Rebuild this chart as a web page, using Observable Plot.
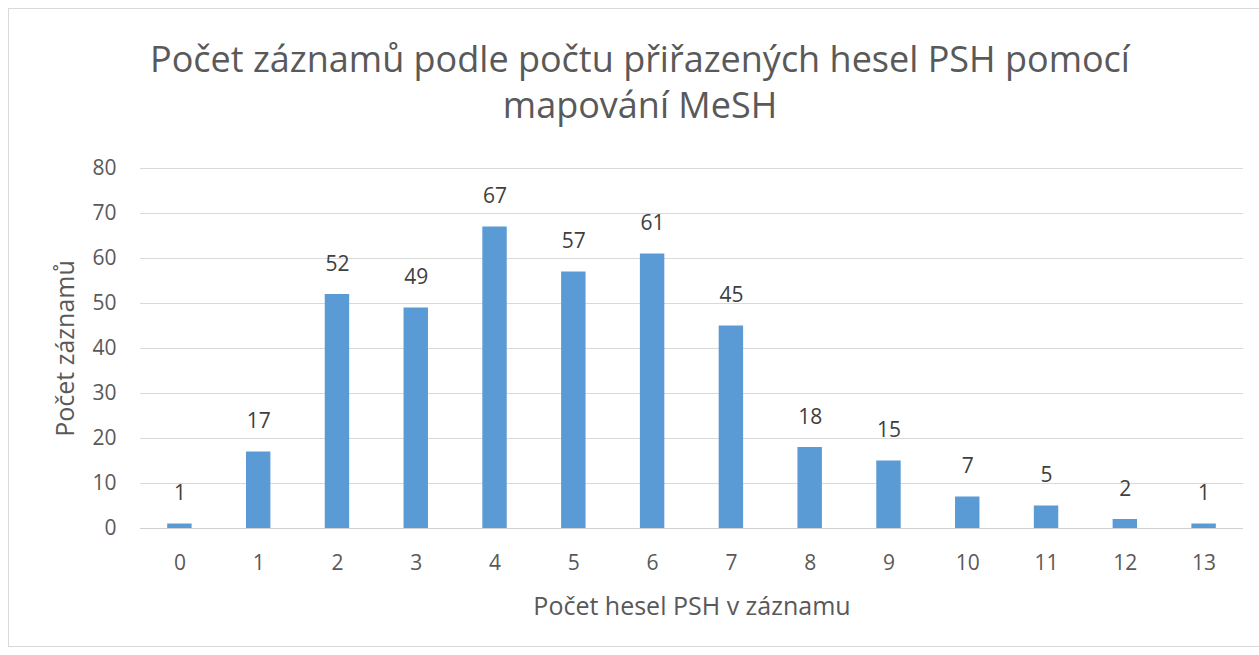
<!DOCTYPE html>
<html>
<head>
<meta charset="utf-8">
<script src="https://cdn.jsdelivr.net/npm/d3@7"></script>
<script src="https://cdn.jsdelivr.net/npm/@observablehq/plot@0.6"></script>
<style>
  body { margin: 0; background: #fff; font-family: "Open Sans", sans-serif; }
  #wrap { position: relative; width: 1259px; height: 655px; overflow: hidden; }
  #frame { position: absolute; left: 8px; top: 8px; width: 1260px; height: 639px; border: 1px solid #d9d9d9; box-sizing: border-box; }
  #title { position: absolute; left: 0; width: 1280px; top: 36px; text-align: center; color: #595959; font-size: 36px; line-height: 46px; }
  #chart { position: absolute; left: 0; top: 150px; }
</style>
</head>
<body>
<div id="wrap">
  <div id="frame"></div>
  <div id="title">Počet záznamů podle počtu přiřazených hesel PSH pomocí<br>mapování MeSH</div>
  <div id="chart"></div>
</div>
<script>
const categories = ["0","1","2","3","4","5","6","7","8","9","10","11","12","13"];
const counts = [1, 17, 52, 49, 67, 57, 61, 45, 18, 15, 7, 5, 2, 1];
const yTicks = [0, 10, 20, 30, 40, 50, 60, 70, 80];
const xLabel = "Počet hesel PSH v záznamu";
const yLabel = "Počet záznamů";

const data = categories.map((c, i) => ({cat: c, value: counts[i]}));

const chart = Plot.plot({
  width: 1259,
  height: 505,
  marginTop: 18,
  marginBottom: 127,
  marginLeft: 140,
  marginRight: 16,
  style: { fontFamily: "Open Sans, sans-serif", color: "#595959", background: "transparent" },
  x: { domain: categories, paddingInner: 0.69, paddingOuter: 0.345, round: false, label: null, tickSize: 0 },
  y: { domain: [0, 80], ticks: yTicks, label: null, tickSize: 0 },
  marks: [
    Plot.gridY(yTicks, { stroke: "#d9d9d9", strokeOpacity: 1, strokeWidth: 1 }),
    Plot.barY(data, { x: "cat", y: "value", fill: "#5B9BD5" }),
    Plot.ruleY([0], { stroke: "#d0d0d0" }),
    Plot.text(data, { x: "cat", y: "value", text: d => String(d.value), dy: -24, lineAnchor: "bottom", fontSize: 21, fill: "#404040" }),
    Plot.axisX({ tickSize: 0, tickPadding: 27, fontSize: 21, label: null }),
    Plot.axisY(yTicks, { tickSize: 0, tickPadding: 24, fontSize: 21, label: null }),
    Plot.text([xLabel], { frameAnchor: "bottom", dy: 78, fontSize: 25, fill: "#595959", lineAnchor: "middle" }),
    Plot.text([yLabel], { frameAnchor: "left", dx: -75, rotate: -90, fontSize: 25, fill: "#595959", textAnchor: "middle", lineAnchor: "middle" })
  ]
});
document.getElementById("chart").appendChild(chart);
</script>
</body>
</html>
